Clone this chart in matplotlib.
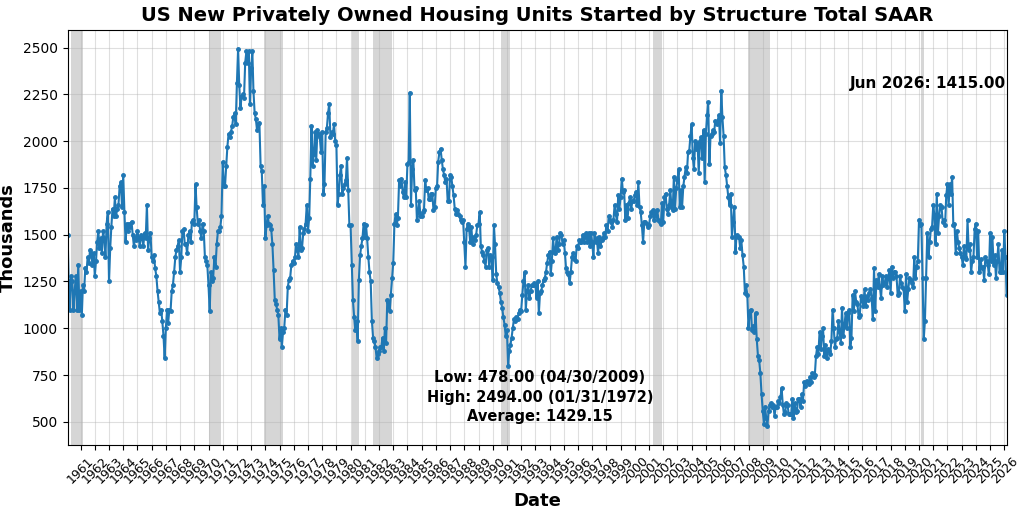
import numpy as np
import pandas as pd
import matplotlib.pyplot as plt

# monthly values (thousands, SAAR), one row per year starting 1960
values_by_year = [
    [1500, 1250, 1100, 1280, 1250, 1100, 1200, 1280, 1100, 1340, 1100, 1200],
    [1070, 1230, 1200, 1320, 1300, 1380, 1350, 1420, 1400, 1340, 1400, 1280],
    [1360, 1460, 1520, 1430, 1480, 1400, 1520, 1480, 1380, 1560, 1620, 1250],
    [1430, 1540, 1640, 1600, 1700, 1600, 1640, 1660, 1760, 1780, 1650, 1820],
    [1620, 1460, 1560, 1520, 1560, 1540, 1570, 1500, 1440, 1480, 1470, 1520],
    [1480, 1440, 1500, 1480, 1440, 1510, 1480, 1660, 1420, 1480, 1510, 1380],
    [1360, 1390, 1320, 1280, 1200, 1140, 1080, 1100, 1040, 960, 840, 1000],
    [1100, 1030, 1100, 1090, 1200, 1230, 1300, 1380, 1420, 1440, 1470, 1300],
    [1380, 1520, 1530, 1450, 1450, 1400, 1500, 1520, 1460, 1570, 1580, 1560],
    [1770, 1650, 1560, 1580, 1520, 1480, 1560, 1520, 1380, 1360, 1340, 1230],
    [1090, 1300, 1250, 1270, 1380, 1330, 1450, 1520, 1520, 1540, 1600, 1890],
    [1760, 1760, 1870, 1970, 2040, 2020, 2050, 2080, 2130, 2150, 2090, 2310],
    [2494, 2300, 2180, 2240, 2250, 2230, 2420, 2480, 2420, 2480, 2200, 2390],
    [2480, 2270, 2150, 2120, 2060, 2090, 2100, 1870, 1840, 1660, 1760, 1480],
    [1550, 1600, 1560, 1550, 1530, 1450, 1310, 1150, 1130, 1100, 1070, 940],
    [1000, 900, 980, 1000, 1100, 1070, 1220, 1260, 1270, 1340, 1360, 1350],
    [1380, 1450, 1420, 1380, 1540, 1420, 1430, 1510, 1530, 1560, 1660, 1520],
    [1590, 1800, 2080, 1870, 1930, 2050, 1900, 2060, 2040, 2020, 1940, 2050],
    [1720, 1770, 2050, 2070, 2150, 2200, 2020, 2050, 2040, 2090, 2000, 1980],
    [1660, 1720, 1820, 1870, 1720, 1750, 1770, 1790, 1910, 1740, 1550, 1550],
    [1340, 1150, 1060, 990, 1040, 930, 1260, 1390, 1440, 1480, 1560, 1490],
    [1550, 1480, 1380, 1300, 1250, 1040, 950, 930, 900, 840, 860, 880],
    [900, 900, 950, 880, 1000, 920, 1150, 1140, 1090, 1180, 1270, 1350],
    [1560, 1610, 1550, 1590, 1790, 1760, 1800, 1730, 1700, 1780, 1700, 1880],
    [1890, 2260, 1660, 1850, 1900, 1740, 1750, 1580, 1620, 1680, 1600, 1600],
    [1620, 1630, 1790, 1740, 1750, 1690, 1690, 1720, 1720, 1630, 1650, 1750],
    [1760, 1890, 1940, 1960, 1900, 1850, 1820, 1780, 1800, 1680, 1680, 1820],
    [1810, 1760, 1710, 1640, 1610, 1630, 1610, 1600, 1580, 1570, 1580, 1460],
    [1330, 1530, 1560, 1540, 1460, 1540, 1450, 1490, 1470, 1500, 1550, 1560],
    [1620, 1440, 1410, 1390, 1360, 1330, 1420, 1430, 1330, 1390, 1380, 1260],
    [1550, 1450, 1290, 1240, 1220, 1190, 1140, 1110, 1060, 1020, 960, 990],
    [800, 880, 910, 950, 1000, 1050, 1040, 1060, 1050, 1080, 1100, 1090],
    [1180, 1250, 1300, 1100, 1200, 1230, 1160, 1200, 1230, 1230, 1240, 1230],
    [1160, 1250, 1080, 1190, 1200, 1230, 1260, 1270, 1300, 1350, 1390, 1410],
    [1290, 1360, 1480, 1410, 1400, 1490, 1420, 1450, 1510, 1500, 1450, 1470],
    [1400, 1320, 1300, 1290, 1240, 1300, 1380, 1400, 1370, 1360, 1440, 1430],
    [1470, 1460, 1460, 1500, 1460, 1490, 1510, 1460, 1510, 1440, 1510, 1460],
    [1380, 1510, 1460, 1480, 1400, 1490, 1440, 1470, 1480, 1510, 1490, 1550],
    [1520, 1600, 1580, 1570, 1540, 1580, 1660, 1610, 1570, 1710, 1640, 1700],
    [1800, 1730, 1740, 1580, 1660, 1590, 1670, 1700, 1640, 1680, 1680, 1710],
    [1730, 1660, 1780, 1650, 1620, 1550, 1460, 1570, 1570, 1560, 1540, 1550],
    [1600, 1620, 1630, 1580, 1620, 1600, 1630, 1580, 1570, 1560, 1670, 1570],
    [1700, 1720, 1640, 1610, 1660, 1740, 1650, 1630, 1810, 1640, 1750, 1790],
    [1850, 1650, 1740, 1650, 1760, 1810, 1860, 1830, 1940, 1950, 2030, 2090],
    [1910, 1850, 2000, 1960, 1990, 1830, 2000, 2020, 1910, 2060, 1780, 2040],
    [2140, 2210, 1880, 2030, 2040, 2060, 2050, 2110, 2090, 2110, 2140, 1990],
    [2270, 2130, 2030, 1860, 1820, 1760, 1700, 1660, 1720, 1490, 1570, 1650],
    [1410, 1500, 1490, 1490, 1430, 1470, 1390, 1330, 1190, 1230, 1180, 1000],
    [1090, 1100, 990, 1010, 980, 1080, 940, 850, 830, 760, 650, 560],
    [490, 580, 520, 478, 560, 590, 600, 580, 590, 530, 580, 580],
    [610, 600, 630, 680, 590, 540, 550, 600, 590, 540, 540, 540],
    [620, 520, 600, 550, 560, 620, 620, 580, 650, 610, 710, 690],
    [720, 710, 700, 740, 710, 760, 740, 750, 850, 900, 860, 980],
    [890, 960, 1000, 850, 910, 840, 890, 880, 860, 930, 1100, 1000],
    [900, 940, 950, 1040, 980, 920, 1110, 960, 1010, 1080, 1000, 1080],
    [1100, 900, 950, 1180, 1090, 1200, 1140, 1130, 1060, 1070, 1170, 1150],
    [1120, 1210, 1120, 1170, 1150, 1190, 1210, 1160, 1050, 1320, 1090, 1260],
    [1220, 1290, 1220, 1160, 1280, 1230, 1240, 1280, 1220, 1270, 1310, 1190],
    [1330, 1270, 1300, 1300, 1280, 1180, 1190, 1280, 1240, 1220, 1210, 1090],
    [1290, 1140, 1210, 1270, 1260, 1240, 1220, 1380, 1270, 1330, 1360, 1580],
    [1550, 1560, 1270, 940, 1040, 1270, 1510, 1380, 1460, 1530, 1540, 1660],
    [1600, 1450, 1720, 1510, 1600, 1660, 1650, 1570, 1580, 1550, 1710, 1770],
    [1660, 1770, 1720, 1810, 1550, 1560, 1400, 1520, 1460, 1430, 1400, 1380],
    [1340, 1440, 1380, 1370, 1580, 1420, 1450, 1300, 1360, 1380, 1530, 1560],
    [1380, 1520, 1300, 1370, 1320, 1330, 1260, 1380, 1360, 1340, 1290, 1510],
    [1360, 1490, 1340, 1390, 1270, 1360, 1450, 1300, 1300, 1420, 1300, 1520],
    [1380, 1180],
]

recessions = [
    ("1960-04-30", "1961-02-28"), ("1969-12-31", "1970-11-30"),
    ("1973-11-30", "1975-03-31"), ("1980-01-31", "1980-07-31"),
    ("1981-07-31", "1982-11-30"), ("1990-07-31", "1991-03-31"),
    ("2001-03-31", "2001-11-30"), ("2007-12-31", "2009-06-30"),
    ("2020-02-29", "2020-04-30"),
]

values = np.array([v for row in values_by_year for v in row], dtype=float)
dates = pd.date_range("1960-01-31", periods=len(values), freq="ME")

fig = plt.figure(figsize=(10.24, 5.13), dpi=100)
ax = fig.add_axes([0.066, 0.133, 0.917, 0.809])

for start, end in recessions:
    ax.axvspan(pd.Timestamp(start), pd.Timestamp(end), color="gray", alpha=0.32, lw=0)

ax.plot(dates, values, color="#1f77b4", lw=1.5, marker="o", markersize=2.5)

years = pd.date_range("1961-01-01", "2026-01-01", freq="YS")
ax.set_xticks(years)
ax.set_xticklabels([str(d.year) for d in years], rotation=45, fontsize=9)
ax.set_xlim(dates[0], dates[-1])
ax.set_ylim(377, 2596)
ax.tick_params(axis="y", labelsize=10)
ax.grid(True, alpha=0.4)

ax.set_title("US New Privately Owned Housing Units Started by Structure Total SAAR",
             fontsize=14, fontweight="bold")
ax.set_xlabel("Date", fontsize=13, fontweight="bold")
ax.set_ylabel("Thousands", fontsize=13, fontweight="bold")

ax.text(0.999, 0.87, "Jun 2026: 1415.00", transform=ax.transAxes,
        ha="right", va="center", fontsize=11, fontweight="bold")
ax.text(0.503, 0.115,
        "Low: 478.00 (04/30/2009)\nHigh: 2494.00 (01/31/1972)\nAverage: 1429.15",
        transform=ax.transAxes, ha="center", va="center", fontsize=10.5,
        fontweight="bold", linespacing=1.35)

plt.savefig("out.png", dpi=100)
